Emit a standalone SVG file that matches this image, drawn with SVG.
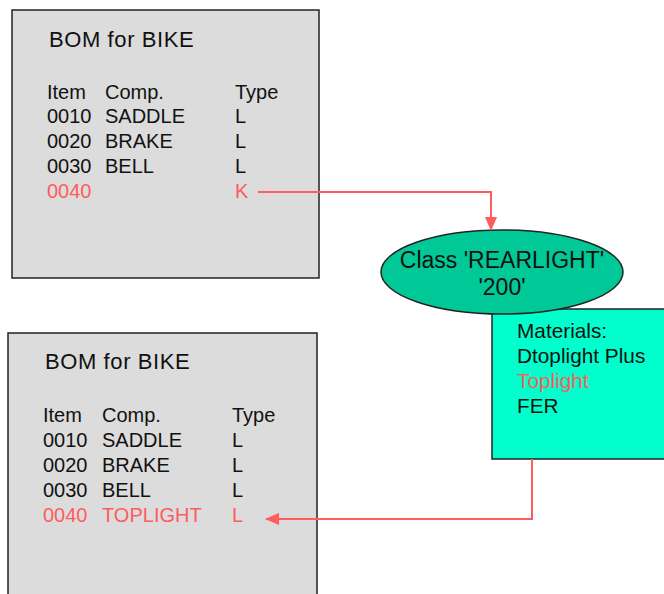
<svg xmlns="http://www.w3.org/2000/svg" width="664" height="594" viewBox="0 0 664 594">
<style>
text{font-family:"Liberation Sans",Arial,sans-serif;font-size:20px;fill:#111}
.r{fill:#ff5c5c}
.t{font-size:22px;letter-spacing:0.6px}
.e{font-size:23px}
.m{font-size:20.8px}
.box{fill:#dcdcdc;stroke:#222;stroke-width:1.5}
.con{fill:none;stroke:#ff5c5c;stroke-width:2}
</style>
<defs>
<marker id="ah" markerWidth="14" markerHeight="12" refX="13" refY="6" orient="auto" markerUnits="userSpaceOnUse">
<path d="M0,0 L14,6 L0,12 Z" fill="#ff5c5c"/>
</marker>
</defs>
<rect width="664" height="594" fill="#fff"/>
<g id="bom-top">
<rect class="box" x="12" y="10" width="307" height="268"/>
<text class="t" x="49" y="47">BOM for BIKE</text>
<text x="47" y="99">Item</text><text x="105" y="99">Comp.</text><text x="235" y="99">Type</text>
<text x="47" y="123">0010</text><text x="105" y="123">SADDLE</text><text x="235" y="123">L</text>
<text x="47" y="148">0020</text><text x="105" y="148">BRAKE</text><text x="235" y="148">L</text>
<text x="47" y="173">0030</text><text x="105" y="173">BELL</text><text x="235" y="173">L</text>
<text class="r" x="47" y="198">0040</text><text class="r" x="235" y="198">K</text>
</g>
<g id="bom-bottom">
<rect class="box" x="8" y="333" width="309" height="270"/>
<text class="t" x="45" y="369">BOM for BIKE</text>
<text x="43" y="422">Item</text><text x="102" y="422">Comp.</text><text x="232" y="422">Type</text>
<text x="43" y="447">0010</text><text x="102" y="447">SADDLE</text><text x="232" y="447">L</text>
<text x="43" y="472">0020</text><text x="102" y="472">BRAKE</text><text x="232" y="472">L</text>
<text x="43" y="497">0030</text><text x="102" y="497">BELL</text><text x="232" y="497">L</text>
<text class="r" x="43" y="522">0040</text><text class="r" x="102" y="522">TOPLIGHT</text><text class="r" x="232" y="522">L</text>
</g>
<g id="materials">
<rect x="492" y="309" width="180" height="150" fill="#00ffcc" stroke="#222" stroke-width="1.5"/>
<text class="m" x="517" y="338">Materials:</text>
<text class="m" x="517" y="363">Dtoplight Plus</text>
<text class="m r" x="517" y="388">Toplight</text>
<text class="m" x="517" y="413">FER</text>
</g>
<g id="class-rearlight">
<ellipse cx="502" cy="272" rx="121" ry="42" fill="#00c896" stroke="#222" stroke-width="1.5"/>
<text class="e" x="502" y="268" text-anchor="middle">Class 'REARLIGHT'</text>
<text class="e" x="502" y="295" text-anchor="middle">'200'</text>
</g>
<g id="connectors">
<path class="con" d="M258,192 H491 V230" marker-end="url(#ah)"/>
<path class="con" d="M532,459 V519 H266" marker-end="url(#ah)"/>
</g>
</svg>
